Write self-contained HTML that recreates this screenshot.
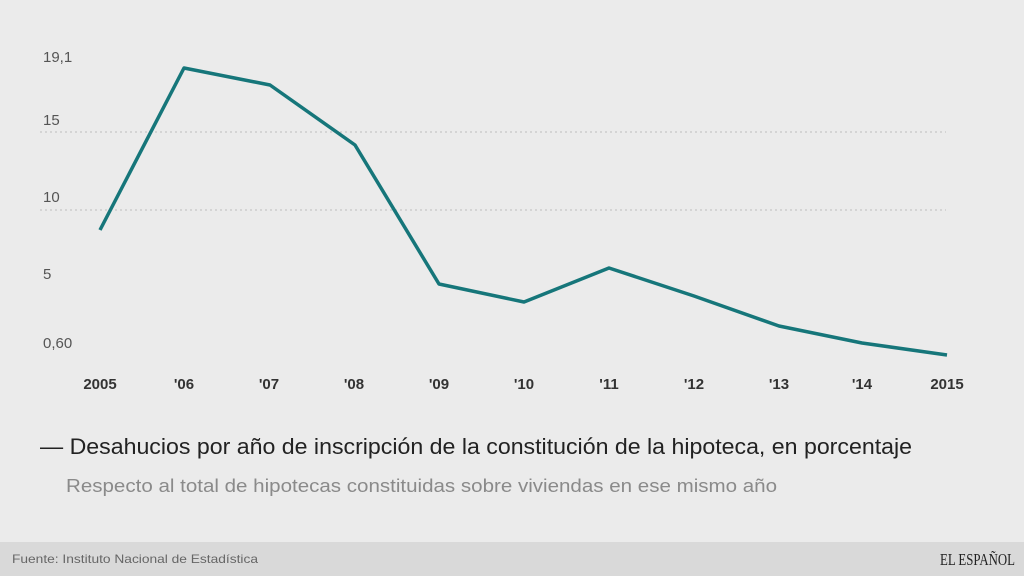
<!DOCTYPE html>
<html><head><meta charset="utf-8"><style>
html,body{margin:0;padding:0;width:1024px;height:576px;background:#ebebeb;overflow:hidden}
svg{display:block}
</style></head><body>
<svg width="1024" height="576" viewBox="0 0 1024 576" font-family="'Liberation Sans', sans-serif">
<rect width="1024" height="576" fill="#ebebeb"/>
<line x1="40" y1="132" x2="946" y2="132" stroke="#bdbdbd" stroke-dasharray="2,3"/>
<line x1="40" y1="210" x2="946" y2="210" stroke="#bdbdbd" stroke-dasharray="2,3"/>
<g fill="#555" font-size="15">
<text x="43" y="62">19,1</text>
<text x="43" y="125">15</text>
<text x="43" y="202">10</text>
<text x="43" y="279">5</text>
<text x="43" y="348">0,60</text>
</g>
<g fill="#333" font-size="15" font-weight="bold" text-anchor="middle">
<text x="100" y="389">2005</text>
<text x="184" y="389">'06</text>
<text x="269" y="389">'07</text>
<text x="354" y="389">'08</text>
<text x="439" y="389">'09</text>
<text x="524" y="389">'10</text>
<text x="609" y="389">'11</text>
<text x="694" y="389">'12</text>
<text x="779" y="389">'13</text>
<text x="862" y="389">'14</text>
<text x="947" y="389">2015</text>
</g>
<polyline fill="none" stroke="#16767a" stroke-width="3.5" stroke-linejoin="round" points="100,230 184,68 270,85 355,145 439,284 524,302 609,268 694,296 779,326 862,343 947,355"/>
<text x="40" y="454" font-size="22" fill="#222" textLength="872" lengthAdjust="spacingAndGlyphs">— Desahucios por año de inscripción de la constitución de la hipoteca, en porcentaje</text>
<text x="66" y="492" font-size="18" fill="#8a8a8a" textLength="711" lengthAdjust="spacingAndGlyphs">Respecto al total de hipotecas constituidas sobre viviendas en ese mismo año</text>
<rect x="0" y="542" width="1024" height="34" fill="#d9d9d9"/>
<text x="12" y="563" font-size="12" fill="#666" textLength="246" lengthAdjust="spacingAndGlyphs">Fuente: Instituto Nacional de Estadística</text>
<text x="1015" y="565" font-size="17" fill="#222" text-anchor="end" font-family="'Liberation Serif', serif" textLength="75" lengthAdjust="spacingAndGlyphs">EL ESPAÑOL</text>
</svg>
</body></html>
